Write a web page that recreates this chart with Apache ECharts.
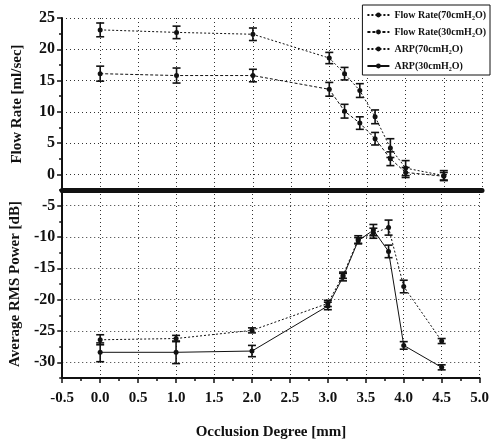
<!DOCTYPE html>
<html>
<head>
<meta charset="utf-8">
<script src="https://cdn.jsdelivr.net/npm/echarts@6/dist/echarts.min.js"></script>
<style>
  html, body { margin: 0; padding: 0; background: #fff; }
  #chart { width: 492px; height: 442px; }
</style>
</head>
<body>
<div id="chart"></div>
<script>
// 闭塞程度 (x) 与各组测量值
const occlusion = [0, 1, 2, 3, 3.2, 3.4, 3.6, 3.8, 4.0, 4.5];

const flow70 = [23.1, 22.7, 22.4, 18.6, 16.1, 13.4, 9.2, 4.2, 1.0, -0.2];
const flow70Err = [1.1, 1.0, 1.0, 0.9, 1.0, 1.1, 1.1, 1.5, 1.2, 0.8];
const flow30 = [16.1, 15.8, 15.8, 13.6, 10.1, 8.2, 5.7, 2.5, 0.3, -0.3];
const flow30Err = [1.2, 1.2, 1.0, 1.1, 1.1, 1.0, 1.0, 1.1, 0.8, 0.6];

const arp70 = [-26.4, -26.2, -24.9, -20.6, -16.1, -10.4, -9.4, -8.5, -17.9, -26.6];
const arp70Err = [0.8, 0.5, 0.4, 0.5, 0.5, 0.6, 0.8, 1.2, 1.0, 0.4];
const arp30 = [-28.4, -28.4, -28.2, -21.0, -16.4, -10.6, -8.9, -12.3, -27.3, -30.8];
const arp30Err = [1.5, 1.8, 0.9, 0.6, 0.6, 0.5, 0.9, 1.0, 0.6, 0.4];

const names = ['Flow Rate(70cmH\u2082O)', 'Flow Rate(30cmH\u2082O)', 'ARP(70cmH\u2082O)', 'ARP(30cmH\u2082O)'];

// 刻度
const flowTicks = [0, 5, 10, 15, 20, 25];
const flowMinor = [-2.5, 2.5, 7.5, 12.5, 17.5, 22.5];
const arpTicks = [-30, -25, -20, -15, -10, -5];
const arpMinor = [-32.5, -27.5, -22.5, -17.5, -12.5, -7.5, -2.5];

const FONT = 'Liberation Serif';
const INK = '#111';

function pairs(ys) { return occlusion.map((x, i) => [x, ys[i]]); }
function errPairs(ys, es) { return occlusion.map((x, i) => [x, ys[i] - es[i], ys[i] + es[i]]); }

// 误差棒 (I 形)
function errorBars(data, xi, yi) {
  return {
    type: 'custom', xAxisIndex: xi, yAxisIndex: yi, silent: true, z: 3,
    data: data,
    renderItem: function (params, api) {
      const lo = api.coord([api.value(0), api.value(1)]);
      const hi = api.coord([api.value(0), api.value(2)]);
      const w = 4;
      const st = { stroke: INK, lineWidth: 1.6 };
      return {
        type: 'group',
        children: [
          { type: 'line', shape: { x1: lo[0], y1: lo[1], x2: hi[0], y2: hi[1] }, style: st },
          { type: 'line', shape: { x1: lo[0] - w, y1: lo[1], x2: lo[0] + w, y2: lo[1] }, style: st },
          { type: 'line', shape: { x1: hi[0] - w, y1: hi[1], x2: hi[0] + w, y2: hi[1] }, style: st }
        ]
      };
    }
  };
}

function lineSeries(name, ys, xi, yi, type) {
  return {
    name: name, type: 'line', xAxisIndex: xi, yAxisIndex: yi,
    data: pairs(ys),
    symbol: 'circle', symbolSize: 5,
    lineStyle: { color: INK, width: 1, type: type },
    itemStyle: { color: INK },
    z: 4
  };
}

const gridLine = { show: true, lineStyle: { color: '#333', type: [1, 3], width: 1 } };

function xAxisDef(gi, showLabels) {
  return {
    type: 'value', gridIndex: gi, min: -0.5, max: 5, interval: 0.5,
    axisLine: { show: true, onZero: false, lineStyle: { color: INK, width: showLabels ? 2 : 5 } },
    axisTick: { show: showLabels, length: 5, inside: false, lineStyle: { color: INK, width: 1.5 } },
    minorTick: { show: showLabels, splitNumber: 2, length: 3, lineStyle: { color: INK, width: 1.5 } },
    axisLabel: {
      show: showLabels, margin: 13, color: INK,
      fontFamily: FONT, fontWeight: 'bold', fontSize: 15,
      formatter: v => v.toFixed(1)
    },
    splitLine: gridLine,
    name: showLabels ? 'Occlusion Degree [mm]' : '',
    nameLocation: 'middle', nameGap: 47,
    nameTextStyle: { color: INK, fontFamily: FONT, fontWeight: 'bold', fontSize: 15 }
  };
}

function yAxisDef(gi, min, max, ticks, title) {
  return {
    type: 'value', gridIndex: gi, min: min, max: max, position: 'left',
    axisLine: { show: true, onZero: false, lineStyle: { color: INK, width: 2 } },
    axisTick: { show: true, length: 5, customValues: ticks, lineStyle: { color: INK, width: 1.5 } },
    axisLabel: {
      customValues: ticks, margin: 7, color: INK,
      fontFamily: FONT, fontWeight: 'bold', fontSize: 16
    },
    splitLine: gridLine,
    name: title, nameLocation: 'middle', nameGap: 37,
    nameTextStyle: { color: INK, fontFamily: FONT, fontWeight: 'bold', fontSize: 15 }
  };
}

// 次刻度 (只画短刻度线)
function minorAxisDef(gi, min, max, ticks) {
  return {
    type: 'value', gridIndex: gi, min: min, max: max, position: 'left', offset: 0,
    axisLine: { show: false, onZero: false },
    axisTick: { show: true, length: 3, customValues: ticks, lineStyle: { color: INK, width: 1.5 } },
    axisLabel: { show: false },
    splitLine: { show: false }
  };
}

const chart = echarts.init(document.getElementById('chart'), null, { renderer: 'canvas' });

chart.setOption({
  backgroundColor: '#fff',
  animation: false,
  grid: [
    { left: 62, right: 10, top: 18, height: 172 },
    { left: 62, right: 10, top: 190, height: 188 }
  ],
  legend: {
    data: names,
    orient: 'vertical',
    right: 2, top: 5,
    backgroundColor: '#fff',
    borderColor: INK, borderWidth: 1,
    padding: [5, 4, 4, 4],
    itemGap: 7,
    itemWidth: 22, itemHeight: 6,
    textStyle: { color: INK, fontFamily: FONT, fontWeight: 'bold', fontSize: 10 }
  },
  xAxis: [xAxisDef(0, false), xAxisDef(1, true)],
  yAxis: [
    yAxisDef(0, -2.5, 25, flowTicks, 'Flow Rate [ml/sec]'),
    yAxisDef(1, -32.5, -2.5, arpTicks, 'Average RMS Power [dB]'),
    minorAxisDef(0, -2.5, 25, flowMinor),
    minorAxisDef(1, -32.5, -2.5, arpMinor)
  ],
  series: [
    lineSeries(names[0], flow70, 0, 0, [2, 2]),
    lineSeries(names[1], flow30, 0, 0, [3, 2]),
    lineSeries(names[2], arp70, 1, 1, [2, 2]),
    lineSeries(names[3], arp30, 1, 1, 'solid'),
    errorBars(errPairs(flow70, flow70Err), 0, 0),
    errorBars(errPairs(flow30, flow30Err), 0, 0),
    errorBars(errPairs(arp70, arp70Err), 1, 1),
    errorBars(errPairs(arp30, arp30Err), 1, 1)
  ]
});
</script>
</body>
</html>
